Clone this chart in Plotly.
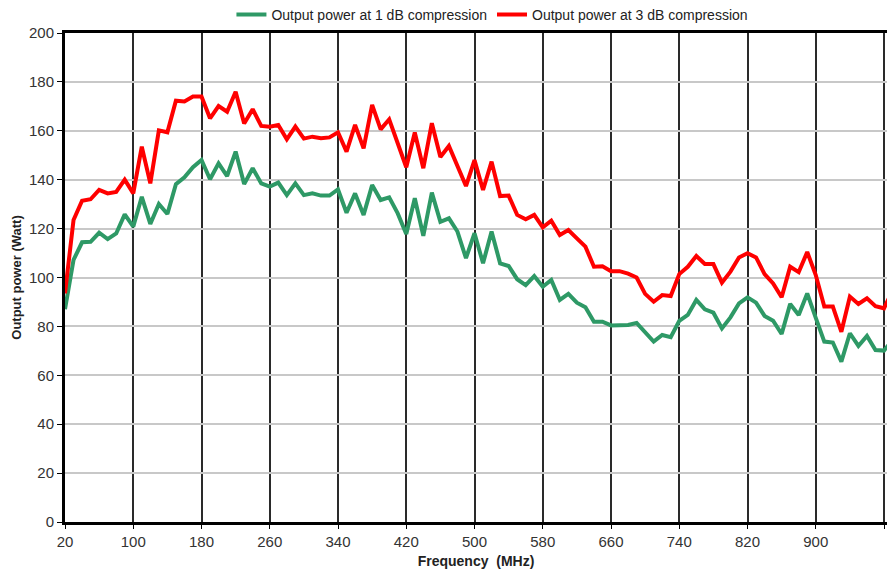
import plotly.graph_objects as go

freq_mhz = list(range(20, 1000, 10))

p1db_watt = [
    87, 107.2, 114.4, 114.6, 118.3, 115.7, 118, 125.8, 120.8, 133,
    121.9, 130.1, 126, 138.2, 141, 145.1, 148.1, 140.2, 146.7, 141.5,
    151.5, 138.2, 144.7, 138.5, 137.2, 138.8, 133.7, 138.5, 133.7, 134.4,
    133.5, 133.5, 136, 126.5, 134.4, 125.6, 137.8, 131.7, 132.8, 126.2,
    117.8, 132.4, 117, 134.7, 122.8, 124.2, 118.8, 107.9, 118.1, 105.8,
    118.8, 105.8, 104.7, 99.3, 96.9, 100.6, 96.2, 99, 90.8, 93.3,
    89.7, 87.8, 81.9, 81.9, 80.4, 80.5, 80.6, 81.4, 77.5, 73.8,
    76.5, 75.6, 82.3, 84.7, 90.8, 87, 85.6, 79.2, 83.7, 89.4,
    91.9, 89.7, 84.3, 82.3, 76.9, 89.2, 84.7, 93.5, 83.5, 73.8,
    73.4, 65.6, 77.2, 72, 76.1, 70.3, 70.1, 74.4,
]

p3db_watt = [
    93.5, 123.5, 131.4, 132, 135.8, 134.4, 135, 140, 134.4, 153.5,
    138.5, 160.2, 159.4, 172.3, 172, 174, 174, 165.1, 170.1, 167.8,
    176, 163, 168.8, 162, 161.7, 162.4, 156.5, 161.7, 156.8, 157.6,
    157, 157.3, 159.4, 151.5, 162.4, 152.8, 170.6, 160.6, 164.7, 154.9,
    145.1, 159.3, 144.7, 163.1, 149.3, 153.8, 146, 137.4, 148, 135.8,
    147.4, 133.3, 133.5, 125.6, 123.8, 125.6, 120.5, 123.2, 117.4, 119.4,
    116, 112.6, 104.4, 104.6, 102.6, 102.6, 101.6, 100, 93.3, 90.1,
    92.8, 92.4, 101.4, 104.4, 108.8, 105.5, 105.5, 97.9, 102.4, 108.2,
    109.9, 108.2, 101.4, 97.6, 91.9, 104.4, 102.2, 110.4, 101, 88.1,
    88.1, 77.8, 92.2, 89.2, 91.5, 88.3, 87.4, 94.6,
]

x_ticks = [20, 100, 180, 260, 340, 420, 500, 580, 660, 740, 820, 900, 980]
y_ticks = [0, 20, 40, 60, 80, 100, 120, 140, 160, 180, 200]

fig = go.Figure()
fig.add_trace(go.Scatter(
    x=freq_mhz, y=p1db_watt, mode="lines",
    name="Output power at 1 dB compression",
    line=dict(color="#2E9966", width=4),
))
fig.add_trace(go.Scatter(
    x=freq_mhz, y=p3db_watt, mode="lines",
    name="Output power at 3 dB compression",
    line=dict(color="#FF0000", width=4),
))

fig.update_layout(
    width=879, height=562,
    margin=dict(l=57, r=0, t=25, b=48, autoexpand=False),
    paper_bgcolor="white", plot_bgcolor="white",
    font=dict(family="Liberation Sans, Arial, sans-serif", color="#222"),
    showlegend=True,
    legend=dict(
        orientation="h", x=0.52, xanchor="center",
        y=1.037, yanchor="middle",
        font=dict(size=14, color="#222"), itemwidth=30,
        bgcolor="rgba(0,0,0,0)",
    ),
    xaxis=dict(
        range=[20, 983.5], tickvals=x_ticks, ticktext=[str(v) for v in x_ticks],
        showgrid=True, gridcolor="#2a2a2a", gridwidth=1.6,
        showline=True, linecolor="black", linewidth=3, mirror=True,
        ticks="outside", ticklen=4, tickcolor="black",
        tickfont=dict(size=15, color="#333"),
        title=dict(text="<b>Frequency  (MHz)</b>", font=dict(size=14, color="#222"), standoff=8),
        zeroline=False,
    ),
    yaxis=dict(
        range=[0, 200], tickvals=y_ticks,
        showgrid=True, gridcolor="#C8C8C8", gridwidth=1.5,
        showline=True, linecolor="black", linewidth=3,
        ticks="outside", ticklen=5, tickcolor="black",
        tickfont=dict(size=15, color="#333"),
        title=dict(text="<b>Output power (Watt)</b>", font=dict(size=13, color="#222"), standoff=5),
        zeroline=False,
    ),
)

fig.write_html("out.html")
